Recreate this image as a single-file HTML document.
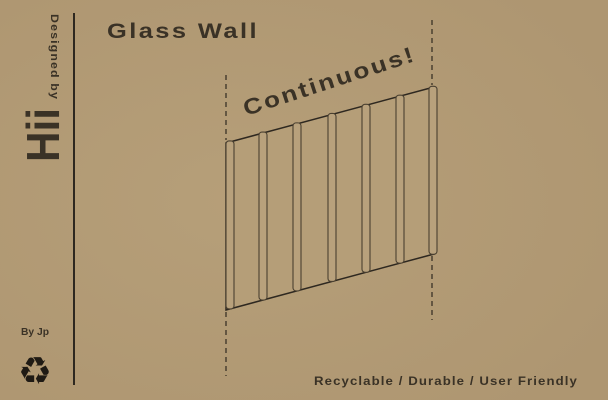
<!DOCTYPE html>
<html><head><meta charset="utf-8"><style>
body{margin:0;width:608px;height:400px;overflow:hidden;background:#b39c76;font-family:"Liberation Sans",sans-serif;color:#3a3226}
svg{position:absolute;left:0;top:0}
</style></head><body>
<svg width="608" height="400">
<defs><radialGradient id="g" cx="0.4" cy="0.5" r="0.7"><stop offset="0" stop-color="#b69f79"/><stop offset="1" stop-color="#ae9671"/></radialGradient></defs>
<rect width="608" height="400" fill="url(#g)"/>
<line x1="74" y1="13" x2="74" y2="385" stroke="#2e2820" stroke-width="2"/>
<text x="0" y="0" transform="translate(51,14) rotate(90)" font-size="11" font-weight="bold" letter-spacing="1" textLength="86" lengthAdjust="spacingAndGlyphs" fill="#3a3226">Designed by</text>
<text x="0" y="0" transform="translate(59,162) rotate(-90)" font-size="46" font-weight="bold" textLength="54" lengthAdjust="spacingAndGlyphs" fill="#3a3226">Hii</text>
<text x="107" y="38" font-size="21" font-weight="bold" letter-spacing="2" textLength="152" lengthAdjust="spacingAndGlyphs" fill="#3a3226">Glass Wall</text>
<text x="0" y="0" transform="translate(246,116) rotate(-18)" font-size="22" font-weight="bold" letter-spacing="2" textLength="180" lengthAdjust="spacingAndGlyphs" fill="#3a3226">Continuous!</text>
<g stroke="#3a3226" stroke-width="1.3" stroke-dasharray="5,4">
<line x1="226" y1="75" x2="226" y2="140"/><line x1="226" y1="312" x2="226" y2="376"/>
<line x1="432" y1="20" x2="432" y2="85"/><line x1="432" y1="256" x2="432" y2="320"/>
</g>
<polygon points="226,143 434,87 434,254 226,310" fill="#b59e78" stroke="#2e2820" stroke-width="1.5"/>
<g id="posts"></g>
<text x="21" y="335" font-size="10" font-weight="bold" textLength="28" lengthAdjust="spacingAndGlyphs" fill="#3a3226">By Jp</text>
<text x="18" y="384" font-size="38" font-weight="bold" fill="#1f1a14" font-family="DejaVu Sans">♻</text>
<text x="314" y="385" font-size="12" font-weight="bold" letter-spacing="1" textLength="264" lengthAdjust="spacingAndGlyphs" fill="#3a3226">Recyclable / Durable / User Friendly</text>
</svg>
<script>
const postX=[230,263,297,332,366,400,433];
const g=document.getElementById('posts');
postX.forEach((x,i)=>{
  const t=143-(x-226)*56/208, b=310-(x-226)*56/208;
  const r=document.createElementNS('http://www.w3.org/2000/svg','rect');
  r.setAttribute('x',x-4);r.setAttribute('y',t-1);r.setAttribute('width',8);r.setAttribute('height',b-t+1);r.setAttribute('rx',3);
  r.setAttribute('fill','#b8a17c');r.setAttribute('stroke','#4a4030');r.setAttribute('stroke-width','1.1');
  
  
  g.appendChild(r);
});
</script>
</body></html>
